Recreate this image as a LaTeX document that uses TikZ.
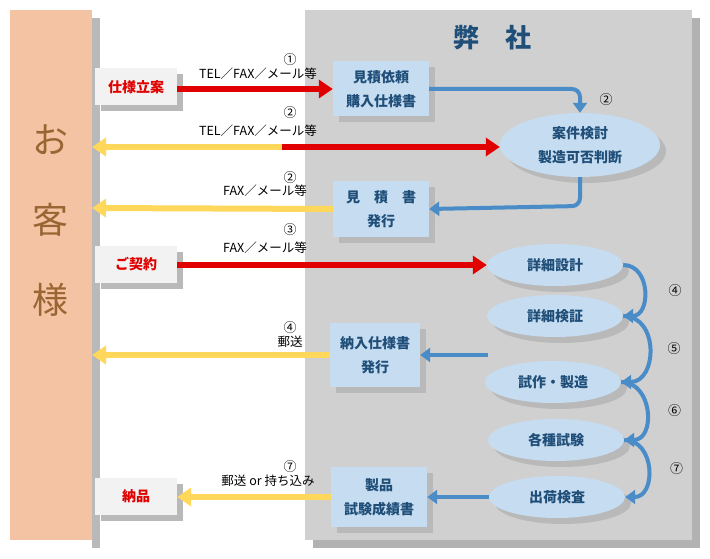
\documentclass[tikz,border=0pt]{standalone}
\usepackage{fontspec}
\setmainfont{Noto Sans CJK JP}
\usetikzlibrary{arrows.meta,shapes.geometric}
\definecolor{peach}{HTML}{F4C3A3}
\definecolor{areagray}{HTML}{D0D0D0}
\definecolor{boxblue}{HTML}{C6DCF0}
\definecolor{linkblue}{HTML}{4A8CC8}
\definecolor{titleblue}{HTML}{1F4E79}
\definecolor{kred}{HTML}{E00000}
\definecolor{kyellow}{HTML}{FFD75A}
\tikzset{drop shadow gray/.style={preaction={fill=gray!55,transform canvas={xshift=6pt,yshift=-6pt}}},
custbox/.style={fill=gray!10,text=kred,font=\bfseries\fontsize{14}{17}\selectfont,minimum width=82pt,minimum height=37pt,drop shadow gray},
docbox/.style={fill=boxblue,text=titleblue,font=\bfseries\fontsize{14}{17}\selectfont,align=center,minimum width=96pt,minimum height=55pt,drop shadow gray},
stepoval/.style={ellipse,fill=boxblue,text=titleblue,font=\bfseries\fontsize{14}{17}\selectfont,align=center,minimum width=136pt,minimum height=42pt,drop shadow gray},
redarrow/.style={draw=kred,line width=6pt,-{Triangle[length=14pt,width=18pt]}},
yelarrow/.style={draw=kyellow,line width=6pt,-{Triangle[length=14pt,width=18pt]}},
bluearrow/.style={draw=linkblue,line width=4pt,-{Triangle[length=10pt,width=14pt]}},
msg/.style={font=\fontsize{12.5}{15}\selectfont,anchor=south},
num/.style={font=\fontsize{13}{15}\selectfont}}
\begin{document}
\begin{tikzpicture}[x=1pt,y=-1pt]
\useasboundingbox (0,0) rectangle (710,559);
\fill[white] (0,0) rectangle (710,559);

%% customer and company areas
\fill[gray!55] (92,18) rectangle (100,548);
\fill[peach] (10,10) rectangle (92,540);
\fill[gray!60] (313,18) rectangle (700,548);
\fill[areagray] (305,10) rectangle (692,540);
\node[text=titleblue,font=\bfseries\fontsize{26}{30}\selectfont] (company) at (492,38) {弊\quad 社};
\foreach \ch/\yy in {お/140,客/220,様/300}
  \node[text=brown!80!black,font=\fontsize{36}{40}\selectfont] at (50,\yy) {\ch};

%% customer side boxes
\node[custbox] (spec) at (136,87) {仕様立案};
\node[custbox] (contract) at (136,264) {ご契約};
\node[custbox] (deliver) at (136,496) {納品};
\coordinate (cust1) at (92,147);
\coordinate (cust2) at (92,208);
\coordinate (cust3) at (92,355);

%% company side
\node[docbox] (request) at (381,89) {見積依頼\\[7pt]購入仕様書};
\node[stepoval,minimum width=160pt,minimum height=64pt] (review) at (580,145) {案件検討\\[7pt]製造可否判断};
\node[docbox] (quote) at (381,209) {見\quad 積\quad 書\\[7pt]発行};
\node[stepoval] (design) at (555,265) {詳細設計};
\node[stepoval] (verify) at (555,316) {詳細検証};
\node[stepoval] (proto) at (553,382) {試作・製造};
\node[stepoval] (tests) at (556,440) {各種試験};
\node[stepoval] (ship) at (557,497) {出荷検査};
\node[docbox,minimum width=90pt,minimum height=64pt] (specdoc) at (375,355) {納入仕様書\\[7pt]発行};
\node[docbox,minimum height=60pt] (report) at (379,497) {製品\\[7pt]試験成績書};

%% messages between the two sides
\draw[redarrow] (spec.east |- 0,89) -- (request.west);
\node[num] at (290,60) {①};
\node[msg] at (258,83) {TEL／FAX／メール等};
\coordinate (mid2) at (282,147);
\draw[yelarrow] (mid2) -- (cust1);
\draw[redarrow] (mid2) -- (review.west |- mid2);
\node[num] at (290,113) {②};
\node[msg] at (258,140) {TEL／FAX／メール等};
\draw[yelarrow] (quote.west) -- (cust2);
\node[num] at (290,178) {②};
\node[msg] at (265,200) {FAX／メール等};
\draw[redarrow] (contract.east |- design) -- (design.west);
\node[num] at (290,230) {③};
\node[msg] at (265,257) {FAX／メール等};
\draw[yelarrow] (specdoc.west) -- (cust3);
\node[num] at (290,328) {④};
\node[msg] at (290,351) {郵送};
\draw[yelarrow] (report.west) -- (deliver.east |- report);
\node[num] at (290,467) {⑦};
\node[msg] at (268,490) {郵送 or 持ち込み};

%% internal flow
\draw[bluearrow,rounded corners=8pt] (request.east) -- (580,89) -- (review.north);
\node[num] at (606,100) {②};
\draw[bluearrow,rounded corners=8pt] (review.south) -- (580,206) -- (quote.east);
\coordinate (specsrc) at (488,355);
\draw[bluearrow] (specsrc) -- (specdoc.east);
\draw[bluearrow] (ship.west) -- (report.east);
\foreach \a/\b/\n in {design/verify/④,verify/proto/⑤,proto/tests/⑥,tests/ship/⑦}{
  \draw[bluearrow] (\a.east) to[out=0,in=0,looseness=1.4] (\b.east);
  \path (\a.east) -- (\b.east) node[midway,xshift=52pt,num] {\n};
}
\end{tikzpicture}
\end{document}
